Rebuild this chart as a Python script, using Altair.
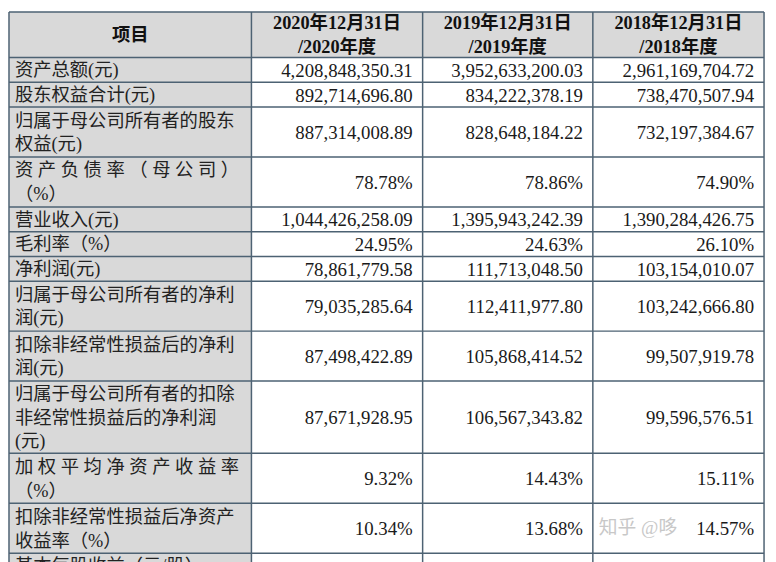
import altair as alt
import pandas as pd

# ---------------- data ----------------
header_item = "项目"
header_years = [["2020年12月31日", "/2020年度"],
                ["2019年12月31日", "/2019年度"],
                ["2018年12月31日", "/2018年度"]]

label_lines = [
    ["资产总额(元)"],
    ["股东权益合计(元)"],
    ["归属于母公司所有者的股东", "权益(元)"],
    ["资 产 负 债 率 （ 母 公 司 ）", "（%）"],
    ["营业收入(元)"],
    ["毛利率（%）"],
    ["净利润(元)"],
    ["归属于母公司所有者的净利", "润(元)"],
    ["扣除非经常性损益后的净利", "润(元)"],
    ["归属于母公司所有者的扣除", "非经常性损益后的净利润", "(元)"],
    ["加 权 平 均 净 资 产 收 益 率", "（%）"],
    ["扣除非经常性损益后净资产", "收益率（%）"],
    ["基本每股收益（元/股）"],
]

v2020 = ["4,208,848,350.31", "892,714,696.80", "887,314,008.89", "78.78%",
         "1,044,426,258.09", "24.95%", "78,861,779.58", "79,035,285.64",
         "87,498,422.89", "87,671,928.95", "9.32%", "10.34%", ""]
v2019 = ["3,952,633,200.03", "834,222,378.19", "828,648,184.22", "78.86%",
         "1,395,943,242.39", "24.63%", "111,713,048.50", "112,411,977.80",
         "105,868,414.52", "106,567,343.82", "14.43%", "13.68%", ""]
v2018 = ["2,961,169,704.72", "738,470,507.94", "732,197,384.67", "74.90%",
         "1,390,284,426.75", "26.10%", "103,154,010.07", "103,242,666.80",
         "99,507,919.78", "99,596,576.51", "15.11%", "14.57%", ""]

watermark = "知乎 @哆"

# ---------------- layout ----------------
W, H = 768, 554
X0, Y0 = 8, 8                       # page offset of plot origin
col_edges = [9, 254, 427, 599, 772]
header_top, header_bot = 9, 55
row_h = {1: 25, 2: 50.5, 3: 73}
line_pitch = 24
GRAY = "#d9d9d9"
BORDER = "#4d6273"
CJK = "Liberation Serif, Noto Sans CJK SC"

row_tops = []
y = header_bot
for lines in label_lines:
    row_tops.append(y)
    y += row_h[len(lines)]
row_bots = row_tops[1:] + [y]
table_bot = y

xs = alt.Scale(domain=[X0, X0 + W], nice=False, zero=False)
ys = alt.Scale(domain=[Y0, Y0 + H], nice=False, zero=False, reverse=True)

# cell backgrounds
cells = []
cells.append(dict(x0=col_edges[0], x1=col_edges[-1], y0=header_top, y1=header_bot, fill=GRAY))
cells.append(dict(x0=col_edges[0], x1=col_edges[1], y0=header_bot, y1=table_bot, fill=GRAY))
cells.append(dict(x0=col_edges[1], x1=col_edges[-1], y0=header_bot, y1=table_bot, fill="#ffffff"))
cells_df = pd.DataFrame(cells)

# grid lines
lines = []
for yy in [header_top, header_bot] + row_bots:
    lines.append(dict(x0=col_edges[0], x1=col_edges[-1], y0=yy, y1=yy))
for xx in col_edges:
    lines.append(dict(x0=xx, x1=xx, y0=header_top, y1=table_bot))
lines_df = pd.DataFrame(lines)

# texts
header_txt = []
hc = (header_top + header_bot) / 2
header_txt.append(dict(x=(col_edges[0] + col_edges[1]) / 2, y=hc, t=header_item))
for i, (l1, l2) in enumerate(header_years):
    cx = (col_edges[i + 1] + col_edges[i + 2]) / 2
    header_txt.append(dict(x=cx, y=hc - 11.5, t=l1))
    header_txt.append(dict(x=cx, y=hc + 12, t=l2))
header_df = pd.DataFrame(header_txt)

label_txt = []
for lines_, top, bot in zip(label_lines, row_tops, row_bots):
    h = bot - top
    start = top + (h - len(lines_) * line_pitch) / 2 + line_pitch / 2 + 0.5
    for k, ln in enumerate(lines_):
        label_txt.append(dict(x=col_edges[0] + 6, y=start + k * line_pitch, t=ln))
label_df = pd.DataFrame(label_txt)

val_txt = []
for ci, vals in enumerate([v2020, v2019, v2018]):
    rx = col_edges[ci + 2] - 10
    for v, top, bot in zip(vals, row_tops, row_bots):
        val_txt.append(dict(x=rx, y=(top + bot) / 2 + 1, t=v))
val_df = pd.DataFrame(val_txt)

wm_df = pd.DataFrame([dict(x=col_edges[3] + 6, y=(row_tops[11] + row_bots[11]) / 2, t=watermark)])

def pos(ch):
    return ch

rects = alt.Chart(cells_df).mark_rect(strokeWidth=0).encode(
    x=alt.X("x0:Q", scale=xs, axis=None), x2="x1:Q",
    y=alt.Y("y0:Q", scale=ys, axis=None), y2="y1:Q",
    color=alt.Color("fill:N", scale=None),
)

rules = alt.Chart(lines_df).mark_rule(color=BORDER, strokeWidth=1.5).encode(
    x=alt.X("x0:Q", scale=xs, axis=None), x2="x1:Q",
    y=alt.Y("y0:Q", scale=ys, axis=None), y2="y1:Q",
)

def text_layer(df, align, size, bold=False, color="#1a1a1a", font=CJK, opacity=1.0):
    return alt.Chart(df).mark_text(
        align=align, baseline="middle", fontSize=size, font=font,
        fontWeight="bold" if bold else "normal", color=color, opacity=opacity,
    ).encode(
        x=alt.X("x:Q", scale=xs, axis=None),
        y=alt.Y("y:Q", scale=ys, axis=None),
        text="t:N",
    )

chart = alt.layer(
    rects,
    text_layer(wm_df, "left", 19, color="#c8c8c8"),
    rules,
    text_layer(header_df, "center", 18.5, bold=True, color="#111111"),
    text_layer(label_df, "left", 18.5, color="#222222"),
    text_layer(val_df, "right", 19, color="#1a1a1a"),
).properties(
    width=W, height=H, padding=0, background="#ffffff",
).configure_view(stroke=None)

chart.save("out.html", embed_options={"renderer": "svg", "actions": False})
